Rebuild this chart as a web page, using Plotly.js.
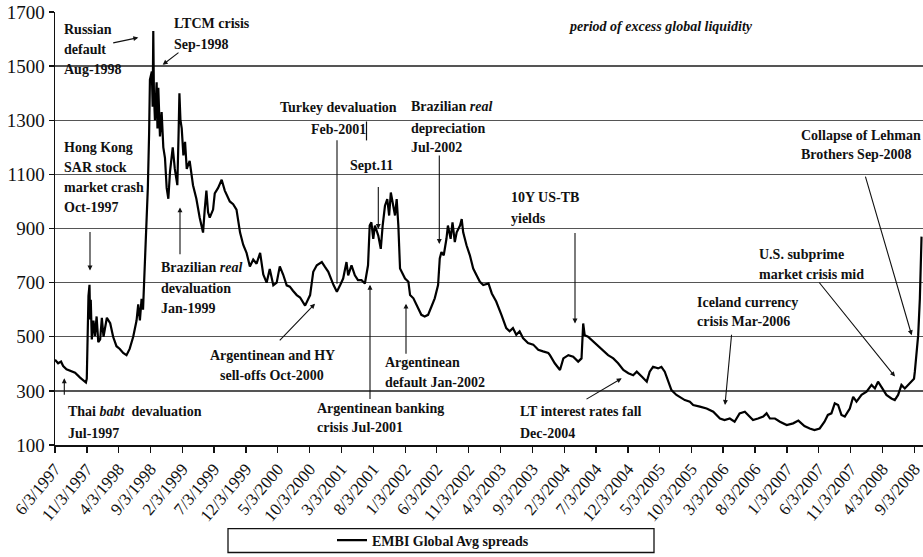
<!DOCTYPE html>
<html>
<head>
<meta charset="utf-8">
<script src="https://cdn.plot.ly/plotly-3.0.1.min.js"></script>
<style>html,body{margin:0;padding:0;background:#fff;}#chart{width:923px;height:557px;}</style>
</head>
<body>
<div id="chart"></div>
<script>
// ---- data ----
const dates = [
"1997-06-03","1997-06-18","1997-07-02","1997-07-12","1997-07-28","1997-08-14","1997-09-07","1997-10-01","1997-10-16","1997-10-29",
"1997-11-02","1997-11-05","1997-11-10","1997-11-15","1997-11-18","1997-11-21","1997-11-26","1997-12-04","1997-12-11","1997-12-19",
"1997-12-27","1998-01-05","1998-01-13","1998-01-21","1998-01-29","1998-02-06","1998-02-22","1998-03-08","1998-03-24","1998-04-09",
"1998-04-25","1998-05-11","1998-05-26","1998-06-12","1998-06-28","1998-07-06","1998-07-14","1998-07-22","1998-07-29","1998-08-07",
"1998-08-15","1998-08-21","1998-08-27","1998-08-31","1998-09-09","1998-09-13","1998-09-16","1998-09-19","1998-09-24","1998-10-02",
"1998-10-06","1998-10-10","1998-10-18","1998-10-26","1998-11-03","1998-11-11","1998-11-19","1998-11-27","1998-12-05","1998-12-18",
"1998-12-28","1999-01-09","1999-01-15","1999-01-19","1999-01-24","1999-01-30","1999-02-07","1999-02-15","1999-02-23","1999-03-09",
"1999-03-25","1999-04-10","1999-04-26","1999-05-12","1999-05-20","1999-05-28","1999-06-05","1999-06-13","1999-06-29","1999-07-07",
"1999-07-23","1999-08-09","1999-08-24","1999-09-17","1999-10-03","1999-10-19","1999-11-05","1999-11-20","1999-12-06","1999-12-22",
"2000-01-07","2000-01-23","2000-02-09","2000-02-24","2000-03-11","2000-03-26","2000-04-12","2000-04-28","2000-05-13","2000-05-29",
"2000-06-15","2000-06-30","2000-07-15","2000-08-02","2000-08-18","2000-09-11","2000-10-05","2000-10-20","2000-11-06","2000-11-30",
"2000-12-15","2000-12-31","2001-01-25","2001-02-10","2001-02-26","2001-03-12","2001-03-28","2001-04-05","2001-04-21","2001-05-07",
"2001-05-22","2001-06-08","2001-06-24","2001-07-09","2001-07-17","2001-07-25","2001-08-03","2001-08-11","2001-08-27","2001-09-08",
"2001-09-17","2001-09-28","2001-10-09","2001-10-18","2001-10-26","2001-11-07","2001-11-15","2001-11-23","2001-12-01","2001-12-09",
"2001-12-22","2002-01-02","2002-01-18","2002-01-26","2002-02-11","2002-02-27","2002-03-21","2002-04-06","2002-04-22","2002-05-08",
"2002-05-24","2002-06-09","2002-06-17","2002-06-25","2002-07-06","2002-07-19","2002-07-26","2002-08-08","2002-08-17","2002-08-28",
"2002-09-06","2002-09-22","2002-09-30","2002-10-07","2002-10-23","2002-11-08","2002-11-24","2002-12-10","2002-12-26","2003-01-11",
"2003-02-05","2003-02-21","2003-03-14","2003-04-08","2003-05-01","2003-05-17","2003-06-02","2003-06-18","2003-07-04","2003-07-20",
"2003-08-13","2003-09-07","2003-10-01","2003-10-24","2003-11-18","2003-11-26","2003-12-19","2004-01-13","2004-01-29","2004-02-22",
"2004-03-16","2004-04-09","2004-04-25","2004-05-03","2004-05-10","2004-05-26","2004-06-20","2004-07-13","2004-08-07","2004-08-30",
"2004-09-24","2004-10-17","2004-11-11","2004-12-05","2004-12-28","2005-01-14","2005-02-08","2005-03-03","2005-03-17","2005-04-02",
"2005-04-26","2005-05-12","2005-05-28","2005-06-13","2005-06-29","2005-07-23","2005-08-08","2005-09-01","2005-09-25","2005-10-11",
"2005-11-12","2005-12-14","2006-01-15","2006-02-16","2006-03-10","2006-04-04","2006-04-27","2006-05-21","2006-06-15","2006-06-30",
"2006-07-24","2006-08-17","2006-09-11","2006-09-27","2006-10-13","2006-11-06","2006-11-30","2007-01-01","2007-02-01","2007-02-26",
"2007-03-27","2007-04-21","2007-05-14","2007-06-08","2007-07-01","2007-07-17","2007-08-03","2007-08-19","2007-09-04","2007-09-20",
"2007-10-06","2007-10-30","2007-11-15","2007-12-01","2007-12-25","2008-01-18","2008-02-11","2008-02-27","2008-03-13","2008-03-29",
"2008-04-22","2008-05-16","2008-06-01","2008-06-17","2008-07-03","2008-07-19","2008-08-04","2008-08-20","2008-09-01","2008-09-05",
"2008-09-13","2008-09-21","2008-09-29","2008-10-03","2008-10-07"
];
const spreads = [
415,402,408,392,380,374,367,349,339,331,
345,515,650,692,564,637,490,560,502,575,
480,490,570,500,540,570,550,500,465,455,
440,432,455,500,560,620,560,640,600,760,
900,1050,1250,1450,1480,1350,1630,1400,1300,1440,
1270,1420,1240,1330,1200,1160,1050,1010,1110,1200,
1120,1060,1250,1400,1300,1270,1170,1220,1120,1150,
1060,1010,940,885,970,1040,960,940,970,1030,
1050,1080,1040,1000,990,970,885,840,810,760,
785,770,810,730,700,750,690,700,760,730,
690,685,670,654,645,615,654,740,764,776,
758,740,691,666,691,715,776,727,764,727,
709,709,697,764,911,923,862,911,874,825,
911,984,1009,948,1033,972,948,1009,911,752,
734,715,703,654,642,617,581,575,581,611,
642,691,789,813,801,862,911,862,923,850,
886,911,935,886,838,801,752,727,703,691,
697,660,630,581,532,520,532,507,520,495,
477,471,452,446,440,432,402,377,420,432,
426,408,420,549,506,500,482,469,451,432,
420,402,377,365,358,371,352,334,371,389,
383,389,371,334,303,285,278,266,260,248,
242,235,223,198,192,198,186,217,223,211,
192,198,205,217,198,198,186,174,180,190,
170,161,155,161,186,211,217,254,248,211,
205,235,278,260,285,297,322,309,334,315,
285,272,266,285,322,309,322,334,345,371,
457,506,641,760,870
];
const seriesName = "EMBI Global Avg spreads";
const tickVals = ["1997-06-03","1997-11-03","1998-04-03","1998-09-03","1999-02-03","1999-07-03","1999-12-03","2000-05-03","2000-10-03","2001-03-03",
"2001-08-03","2002-01-03","2002-06-03","2002-11-03","2003-04-03","2003-09-03","2004-02-03","2004-07-03","2004-12-03","2005-05-03",
"2005-10-03","2006-03-03","2006-08-03","2007-01-03","2007-06-03","2007-11-03","2008-04-03","2008-09-03"];
const tickText = ["6/3/1997","11/3/1997","4/3/1998","9/3/1998","2/3/1999","7/3/1999","12/3/1999","5/3/2000","10/3/2000","3/3/2001",
"8/3/2001","1/3/2002","6/3/2002","11/3/2002","4/3/2003","9/3/2003","2/3/2004","7/3/2004","12/3/2004","5/3/2005",
"10/3/2005","3/3/2006","8/3/2006","1/3/2007","6/3/2007","11/3/2007","4/3/2008","9/3/2008"];

// ---- layout helpers (pixel -> paper) ----
const L = 55, R = 923, T = 12, B = 447;
const fx = p => (p - L) / (R - L);
const fy = p => (B - p) / (B - T);
const SERIF = "Liberation Serif, Times New Roman, serif";

const labels = [
  ["Russian",62,30],["default",62,50],["Aug-1998",62,70],
  ["LTCM crisis",172,24],["Sep-1998",172,45],
  ["Hong Kong",62,148],["SAR stock",62,168],["market crash",62,188],["Oct-1997",62,208],
  ["Thai <i>babt</i>  devaluation",66,413],["Jul-1997",66,435],
  ["Brazilian <i>real</i>",159,269],["devaluation",159,290],["Jan-1999",159,310],
  ["Turkey devaluation",278,108],["Feb-2001",309,130],
  ["Sept.11",348,166],
  ["Brazilian <i>real</i>",409,107],["depreciation",409,129],["Jul-2002",409,148],
  ["Argentinean banking",315,410],["crisis Jul-2001",315,429],
  ["Argentinean",383,364],["default Jan-2002",383,384],
  ["10Y US-TB",509,198],["yields",509,219],
  ["LT interest rates fall",518,413],["Dec-2004",518,435],
  ["Iceland currency",695,304],["crisis Mar-2006",695,323],
  ["U.S. subprime",757,256],["market crisis mid",757,276],
  ["Collapse of Lehman",799,136],["Brothers Sep-2008",799,155]
];
const centered = [["Argentinean and HY",272,357],["sell-offs Oct-2000",272,377]];
// arrows: tail x, tail y, head x, head y, has head
const arrows = [
  [111.7,43.3,138.3,37.7,1],[180,51.7,162.7,65,1],[90,231.7,90,271.7,1],[64.3,398,64.3,380,1],
  [180,256.7,180,208.3,1],[337,140,337,285,0],[378.3,186.5,378.3,230,1],[439.3,155,439.3,245,1],
  [278.3,343.3,315,305,1],[370,401.7,370,286,1],[406,356.7,406,305,1],[575,233,575,325,1],
  [585,401.7,621.7,380,1],[731.7,335,725,406.7,1],[818,282.7,895,378.3,1],[865,176.7,911.7,336.7,1]
];

const annFont = {family: SERIF, size: 14, color: "#111", weight: "bold"};
const annotations = [];
labels.forEach(([t,x,y]) => annotations.push({xref:"paper",yref:"paper",x:fx(x),y:fy(y),xanchor:"left",yanchor:"middle",
  text:"<b>"+t+"</b>",showarrow:false,font:annFont}));
centered.forEach(([t,x,y]) => annotations.push({xref:"paper",yref:"paper",x:fx(x),y:fy(y),xanchor:"center",yanchor:"middle",
  text:"<b>"+t+"</b>",showarrow:false,font:annFont}));
annotations.push({xref:"paper",yref:"paper",x:fx(567),y:fy(27),xanchor:"left",yanchor:"middle",
  text:"<b><i>period of excess global liquidity</i></b>",showarrow:false,font:annFont});
arrows.forEach(([tx,ty,hx,hy,h]) => annotations.push({xref:"paper",yref:"paper",x:fx(hx),y:fy(hy),
  axref:"pixel",ayref:"pixel",ax:tx-hx,ay:ty-hy,text:"",showarrow:true,arrowhead:h?2:0,arrowsize:0.9,arrowwidth:1.1,
  arrowcolor:"#111",standoff:0,startstandoff:0}));

const shapes = [
  {type:"line",xref:"paper",yref:"paper",x0:fx(366.5),x1:fx(366.5),y0:fy(122),y1:fy(141),line:{color:"#111",width:1.2}},
  {type:"rect",xref:"paper",yref:"paper",x0:fx(228),x1:fx(654),y0:fy(531),y1:fy(555),line:{color:"#111",width:1.3},fillcolor:"rgba(0,0,0,0)"}
];

const trace = {
  type:"scatter", mode:"lines", x:dates, y:spreads, name:seriesName,
  line:{color:"#000", width:2.2}, showlegend:true
};

const layout = {
  width:923, height:557,
  margin:{l:L, r:923-R, t:T, b:557-B, pad:0},
  paper_bgcolor:"#fff", plot_bgcolor:"#fff",
  font:{family:SERIF, color:"#111"},
  showlegend:true,
  legend:{orientation:"h", x:fx(332), xanchor:"left", y:fy(543), yanchor:"middle",
    bgcolor:"rgba(0,0,0,0)", borderwidth:0, font:{family:SERIF,size:14,color:"#111",weight:"bold"}},
  xaxis:{type:"date", range:["1997-06-03","2008-10-14"], tickmode:"array", tickvals:tickVals, ticktext:tickText,
    tickangle:-50, tickfont:{family:SERIF,size:17,color:"#111"}, ticks:"outside", ticklen:6, tickcolor:"#111", tickwidth:1.3,
    ticklabeloverflow:"allow",
    showline:true, linecolor:"#111", linewidth:1.5, showgrid:false, zeroline:false, automargin:false, fixedrange:true},
  yaxis:{range:[100,1700], tickmode:"array", tickvals:[100,300,500,700,900,1100,1300,1500,1700],
    tickfont:{family:SERIF,size:19,color:"#111"}, ticks:"outside", ticklen:5, tickcolor:"#111", tickwidth:1.3,
    ticklabeloverflow:"allow",
    showline:true, linecolor:"#111", linewidth:1.5, showgrid:true, gridcolor:"#555", gridwidth:1.3,
    zeroline:false, automargin:false, fixedrange:true},
  annotations:annotations,
  shapes:shapes
};

Plotly.newPlot("chart",[trace],layout,{staticPlot:true,displayModeBar:false});
</script>
</body>
</html>
